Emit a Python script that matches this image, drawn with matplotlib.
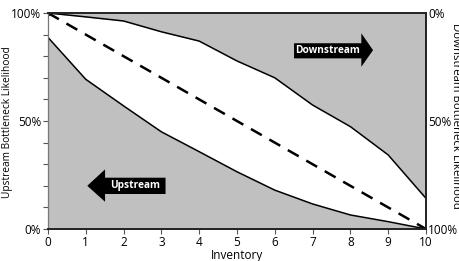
import numpy as np
import matplotlib.pyplot as plt
from matplotlib.patches import Polygon
from matplotlib.ticker import MultipleLocator, FuncFormatter

plt.rcParams['font.family'] = ['Open Sans', 'DejaVu Sans']

#%% Data
inventory = [0, 1, 2, 3, 4, 5, 6, 7, 8, 9, 10]
upstream = [0.887, 0.693, 0.57, 0.45, 0.358, 0.265, 0.18, 0.116, 0.065, 0.034, 0.0]
downstream_edge = [1.0, 0.982, 0.963, 0.913, 0.87, 0.778, 0.70, 0.574, 0.474, 0.343, 0.142]
diagonal_x = [0, 10]
diagonal_y = [1.0, 0.0]

grey = '#c0c0c0'

#%% Figure
fig = plt.figure(figsize=(4.6, 2.61), dpi=100)
ax = fig.add_axes([0.1043, 0.1226, 0.8217, 0.8276])

ax.fill_between(inventory, 0, upstream, color=grey, lw=0)
ax.fill_between(inventory, downstream_edge, 1, color=grey, lw=0)
ax.plot(inventory, upstream, color='black', lw=1.1)
ax.plot(inventory, downstream_edge, color='black', lw=1.1)
ax.plot(diagonal_x, diagonal_y, color='black', lw=1.8, dashes=(5, 3.5),
        marker='D', markersize=2.5)

ax.set_xlim(0, 10)
ax.set_ylim(0, 1)
ax.xaxis.set_major_locator(MultipleLocator(1))
ax.yaxis.set_major_locator(MultipleLocator(0.5))
ax.yaxis.set_minor_locator(MultipleLocator(0.1))
ax.yaxis.set_major_formatter(FuncFormatter(lambda v, p: '%d%%' % round(v * 100)))
ax.tick_params(axis='both', labelsize=8.5, direction='out', length=3.5,
               width=0.8, color='#555555', pad=1.5)
ax.tick_params(axis='y', which='minor', length=3.5, width=0.8, color='#555555')

for side in ['top', 'right', 'bottom']:
    ax.spines[side].set_color('#222222')
    ax.spines[side].set_linewidth(1.4)
ax.spines['left'].set_color('#777777')
ax.spines['left'].set_linewidth(0.9)

ax.set_xlabel('Inventory', fontsize=8.5, labelpad=0)
ax.set_ylabel('Upstream Bottleneck Likelihood', fontsize=7.3)
ax.yaxis.set_label_coords(-0.0926, 0.495)

# right axis, reversed
ax2 = ax.twinx()
ax2.set_ylim(1, 0)
ax2.yaxis.set_major_locator(MultipleLocator(0.5))
ax2.yaxis.set_major_formatter(FuncFormatter(lambda v, p: '%d%%' % round(v * 100)))
ax2.tick_params(axis='y', labelsize=8.5, length=0, pad=1.5)
for s in ax2.spines.values():
    s.set_visible(False)
ax2.set_ylabel('Downstream Bottleneck Likelihood', fontsize=8.2, rotation=270)
ax2.yaxis.set_label_coords(1.092, 0.523)

# direction arrows
down_arrow = [(6.51, 0.860), (8.29, 0.860), (8.29, 0.906), (8.60, 0.828),
              (8.29, 0.751), (8.29, 0.790), (6.51, 0.790)]
up_arrow = [(3.11, 0.2375), (1.51, 0.2375), (1.51, 0.276), (1.04, 0.200),
            (1.51, 0.126), (1.51, 0.162), (3.11, 0.162)]
ax.add_patch(Polygon(down_arrow, closed=True, fc='black', ec='none', zorder=5))
ax.add_patch(Polygon(up_arrow, closed=True, fc='black', ec='none', zorder=5))
ax.text(7.40, 0.825, 'Downstream', color='white', fontsize=7.3,
        fontweight='bold', ha='center', va='center', zorder=6)
ax.text(2.31, 0.200, 'Upstream', color='white', fontsize=7.3,
        fontweight='bold', ha='center', va='center', zorder=6)

fig.savefig('out.png', dpi=100)
